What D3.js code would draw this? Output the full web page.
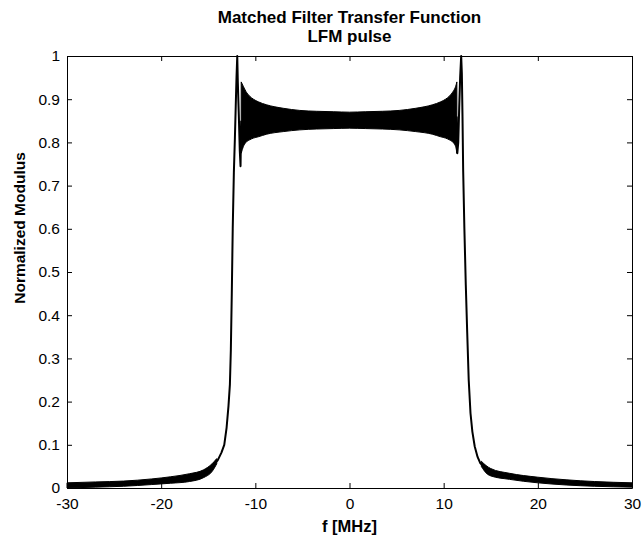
<!DOCTYPE html>
<html><head><meta charset="utf-8">
<script src="https://cdn.jsdelivr.net/npm/d3@7"></script>
<style>body{margin:0;background:#fff}svg{display:block}</style>
</head><body>
<svg id="c" width="642" height="537"></svg>
<script>
// ---- data ----
const titleLines = ["Matched Filter Transfer Function", "LFM pulse"];
const xLabel = "f [MHz]";
const yLabel = "Normalized Modulus";
const xTicks = [-30, -20, -10, 0, 10, 20, 30];
const xTickLabels = ["-30", "-20", "-10", "0", "10", "20", "30"];
const yTicks = [0, 0.1, 0.2, 0.3, 0.4, 0.5, 0.6, 0.7, 0.8, 0.9, 1];
const yTickLabels = ["0", "0.1", "0.2", "0.3", "0.4", "0.5", "0.6", "0.7", "0.8", "0.9", "1"];

// main trace (null = break)
const traceF = [-30, -28, -26, -24, -22, -20, -18, -16.5, -15.5, -14.5, -14, -13.6, -13.3, -13.05, -12.85, -12.7, -12.6, -12.5, -12.4, -12.28, -12.17, -12.08, -12.0, -11.92, -11.86, -11.75, -11.65, -11.57, -11.5,
  null,
  11.38, 11.45, 11.55, 11.65, 11.75, 11.86, 11.93, 12.0, 12.07, 12.2, 12.35, 12.5, 12.66, 12.85, 13.05, 13.3, 13.6, 13.9, 14.5, 15.3, 16.5, 18, 20, 22, 24, 26, 28, 30];
const traceV = [0.006, 0.008, 0.010, 0.012, 0.014, 0.018, 0.022, 0.029, 0.036, 0.052, 0.064, 0.082, 0.10, 0.14, 0.19, 0.24, 0.32, 0.45, 0.60, 0.73, 0.81, 0.885, 0.95, 1.0, 0.94, 0.86, 0.78, 0.745, 0.85,
  null,
  0.86, 0.775, 0.80, 0.88, 0.95, 1.0, 0.96, 0.86, 0.736, 0.60, 0.47, 0.36, 0.25, 0.173, 0.13, 0.096, 0.072, 0.057, 0.045, 0.034, 0.027, 0.021, 0.018, 0.015, 0.013, 0.011, 0.010, 0.009];

// dense ripple band (envelopes)
const bandF  = [-11.5, -11.28, -11.0, -10.6, -10.2, -9.69, -8.8, -7.04, -5.27, -3.5, -1.73, 0, 1.73, 3.5, 5.27, 7.04, 8.8, 9.69, 10.2, 10.6, 11.0, 11.28, 11.4];
const bandHi = [0.94, 0.93, 0.918, 0.907, 0.90, 0.894, 0.887, 0.879, 0.874, 0.872, 0.871, 0.870, 0.871, 0.872, 0.874, 0.879, 0.887, 0.894, 0.90, 0.907, 0.918, 0.93, 0.94];
const bandLo = [0.775, 0.79, 0.80, 0.806, 0.81, 0.813, 0.819, 0.825, 0.829, 0.831, 0.832, 0.833, 0.832, 0.831, 0.829, 0.825, 0.819, 0.813, 0.81, 0.806, 0.80, 0.79, 0.775];

// tail thickness bands
const tailLF  = [-30, -27, -24, -21, -19, -17, -15.5, -14.6, -14.1];
const tailLHi = [0.012, 0.014, 0.016, 0.021, 0.026, 0.033, 0.042, 0.056, 0.068];
const tailLLo = [0.0, 0.002, 0.004, 0.008, 0.011, 0.015, 0.024, 0.038, 0.056];
const tailRF  = [14.0, 14.5, 15, 17, 20, 23, 26, 30];
const tailRHi = [0.062, 0.052, 0.045, 0.034, 0.025, 0.019, 0.015, 0.012];
const tailRLo = [0.050, 0.035, 0.028, 0.020, 0.012, 0.007, 0.004, 0.002];

// ---- layout ----
const L = 67, R = 632, T = 56, B = 488;
const font = "'Liberation Sans', Arial, Helvetica, sans-serif";
const svg = d3.select("#c");
const x = d3.scaleLinear().domain([-30, 30]).range([L, R]);
const y = d3.scaleLinear().domain([0, 1]).range([B, T]);

// bands
function band(F, H, Lo) {
  const d = F.map((f, i) => ({f, h: H[i], l: Lo[i]}));
  svg.append("path").datum(d)
    .attr("d", d3.area().curve(d3.curveMonotoneX).x(p => x(p.f)).y0(p => y(p.l)).y1(p => y(p.h)))
    .attr("fill", "#000").attr("stroke", "#000").attr("stroke-width", 1);
}
band(bandF, bandHi, bandLo);
band(tailLF, tailLHi, tailLLo);
band(tailRF, tailRHi, tailRLo);

// trace
const tr = traceF.map((f, i) => ({f, v: traceV[i]}));
svg.append("path").datum(tr)
  .attr("d", d3.line().defined(p => p.f !== null && p.v !== null).x(p => x(p.f)).y(p => y(p.v)))
  .attr("fill", "none").attr("stroke", "#000").attr("stroke-width", 2).attr("stroke-linejoin", "round");

// axes (box with inward ticks on all sides)
const tk = 5;
const gx = svg.append("g").attr("transform", `translate(0,${B})`)
  .call(d3.axisBottom(x).tickValues(xTicks).tickFormat((d, i) => xTickLabels[i]).tickSizeInner(-tk).tickSizeOuter(0).tickPadding(10));
const gxt = svg.append("g").attr("transform", `translate(0,${T})`)
  .call(d3.axisTop(x).tickValues(xTicks).tickFormat("").tickSizeInner(-tk).tickSizeOuter(0));
const gy = svg.append("g").attr("transform", `translate(${L},0)`)
  .call(d3.axisLeft(y).tickValues(yTicks).tickFormat((d, i) => yTickLabels[i]).tickSizeInner(-tk).tickSizeOuter(0).tickPadding(7));
const gyr = svg.append("g").attr("transform", `translate(${R},0)`)
  .call(d3.axisRight(y).tickValues(yTicks).tickFormat("").tickSizeInner(-tk).tickSizeOuter(0));
[gx, gxt, gy, gyr].forEach(g => {
  g.selectAll("path.domain").attr("stroke", "#000").attr("stroke-width", 1);
  g.selectAll("line").attr("stroke", "#000");
  g.selectAll("text").attr("fill", "#000").style("font-family", font).style("font-size", "15.5px");
});

// titles and labels
svg.append("text").attr("x", (L + R) / 2).attr("y", 23).attr("text-anchor", "middle")
  .style("font-family", font).style("font-size", "17px").style("font-weight", "bold").text(titleLines[0]);
svg.append("text").attr("x", (L + R) / 2).attr("y", 42).attr("text-anchor", "middle")
  .style("font-family", font).style("font-size", "17px").style("font-weight", "bold").text(titleLines[1]);
svg.append("text").attr("x", (L + R) / 2).attr("y", 532).attr("text-anchor", "middle")
  .style("font-family", font).style("font-size", "16.5px").style("font-weight", "bold").text(xLabel);
svg.append("text").attr("transform", `translate(25,228) rotate(-90)`).attr("text-anchor", "middle")
  .style("font-family", font).style("font-size", "15.5px").style("font-weight", "bold").text(yLabel);
</script>
</body></html>
